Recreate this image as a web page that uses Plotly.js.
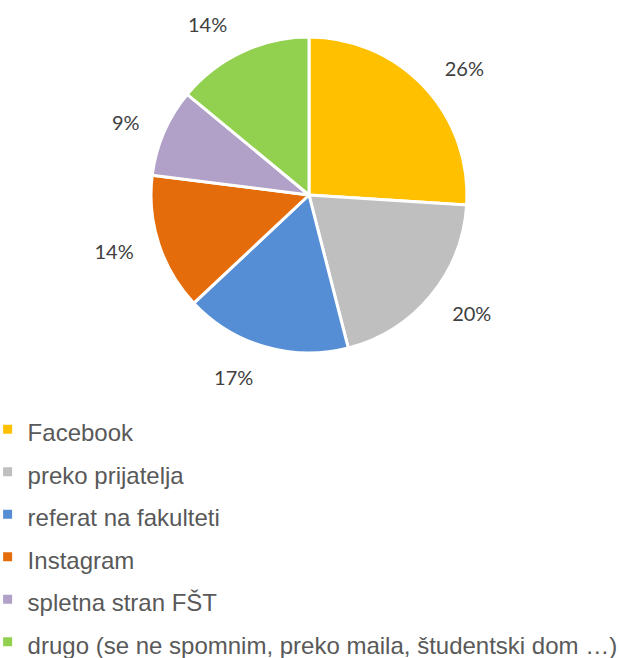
<!DOCTYPE html>
<html>
<head>
<meta charset="utf-8">
<script src="https://cdn.plot.ly/plotly-3.0.1.min.js"></script>
<style>html,body{margin:0;padding:0;background:#fff;}#chart{width:619px;height:658px;}</style>
</head>
<body>
<div id="chart"></div>
<script>
const categories = ["Facebook", "preko prijatelja", "referat na fakulteti", "Instagram", "spletna stran FŠT", "drugo (se ne spomnim, preko maila, študentski dom …)"];
const shares = [26, 20, 17, 14, 9, 14];
const colors = ["#FFC000", "#BFBFBF", "#558ED5", "#E46C0A", "#B1A0C7", "#92D050"];

const W = 619, H = 658;
const cx = 309, cy = 195, r = 158, rl = 178;
const legendLabels = categories.map(c => '<span style="font-size:24px">' + c + '</span>');

const pie = {
  type: 'pie',
  labels: legendLabels,
  values: shares,
  sort: false,
  direction: 'clockwise',
  rotation: 0,
  marker: {colors: colors, line: {color: '#ffffff', width: 3}},
  textinfo: 'none',
  hoverinfo: 'label+percent',
  domain: {x: [(cx - r) / W, (cx + r) / W], y: [1 - (cy + r) / H, 1 - (cy - r) / H]},
  showlegend: true
};
const labelPie = {
  type: 'pie',
  labels: legendLabels,
  values: shares,
  sort: false,
  direction: 'clockwise',
  rotation: 0,
  marker: {colors: colors.map(() => 'rgba(0,0,0,0)'), line: {width: 0}},
  texttemplate: '%{percent:.0%}',
  textposition: 'outside',
  outsidetextfont: {family: 'Lato, sans-serif', size: 20, color: '#404040'},
  hoverinfo: 'skip',
  domain: {x: [(cx - rl) / W, (cx + rl) / W], y: [1 - (cy + rl) / H, 1 - (cy - rl) / H]},
  showlegend: false
};

const layout = {
  width: W, height: H,
  margin: {l: 0, r: 0, t: 0, b: 0, autoexpand: false},
  paper_bgcolor: '#ffffff',
  showlegend: true,
  legend: {
    x: -0.02, xanchor: 'left', y: 1 - 403 / H, yanchor: 'top',
    font: {family: 'Liberation Sans, Arial, sans-serif', size: 30.4, color: '#595959'},
    bgcolor: 'rgba(0,0,0,0)', borderwidth: 0, orientation: 'v'
  }
};
Plotly.newPlot('chart', [pie, labelPie], layout, {displayModeBar: false, staticPlot: true});
</script>
</body>
</html>
